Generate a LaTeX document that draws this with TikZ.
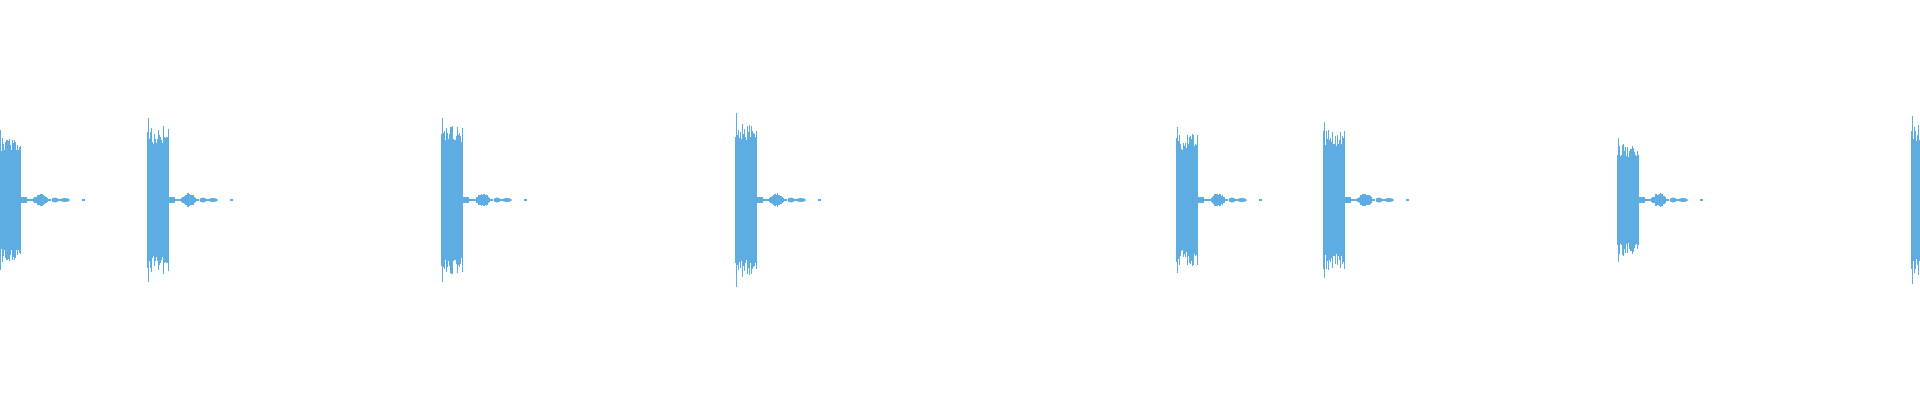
\documentclass[tikz,border=0pt]{standalone}
\usetikzlibrary{positioning}
\definecolor{wave}{HTML}{5DADE2}
\tikzset{
  pulse/.style={fill=wave,draw=none},
  trace/.style={draw=wave,line width=0.5pt}
}
% one burst with its decaying tail, at pixel x=#1, peak half-height #2
\newcommand{\burstat}[2]{%
  % loud part
  \fill[pulse] (#1,200-0.62*#2) rectangle (#1+22,200+0.62*#2);
  \foreach \k in {0,...,21} {%
    \pgfmathsetmacro{\hh}{#2*(0.68+0.22*rnd)}
    \draw[trace] (#1+\k+0.5,200-\hh) -- (#1+\k+0.5,200+\hh);
  }
  % first spike
  \draw[trace] (#1+1.5,200-#2) -- (#1+1.5,200+#2);
  % tail
  \fill[pulse] (#1+22,197) rectangle (#1+28,203);
  \fill[pulse] (#1+28,199) rectangle (#1+34,201);
  \foreach \k in {0,...,14} {%
    \pgfmathsetmacro{\hh}{(2+5*sin(\k*12))*(0.7+0.3*rnd)}
    \draw[trace] (#1+34.5+\k,200-\hh) -- (#1+34.5+\k,200+\hh);
  }
  \fill[pulse] (#1+49,199.3) rectangle (#1+52,200.7);
  \fill[pulse] (#1+56,200) ellipse (3.5 and 2.5);
  \fill[pulse] (#1+53,199.3) rectangle (#1+63,200.7);
  \fill[pulse] (#1+66,200) ellipse (5 and 2);
  \fill[pulse] (#1+83,199.3) rectangle (#1+86,200.7);
}
\begin{document}
\begin{tikzpicture}[x=0.02cm,y=-0.02cm]
  \useasboundingbox (0,0) rectangle (1920,400);
  \pgfmathsetseed{42}
  % bursts along the time axis
  \foreach \x/\a in {-1/70, 147/82, 441/82, 735/87, 1176/73, 1323/78, 1617/62, 1911/84} {
    \burstat{\x}{\a}
  }
\end{tikzpicture}
\end{document}
